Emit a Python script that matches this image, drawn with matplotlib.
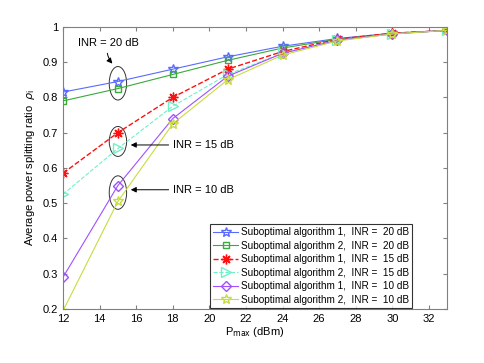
import numpy as np
import matplotlib.pyplot as plt
from matplotlib.patches import Ellipse

p_max = [12, 15, 18, 21, 24, 27, 30, 33]

alg1_20 = [0.815, 0.845, 0.88, 0.915, 0.945, 0.967, 0.982, 0.99]
alg2_20 = [0.79, 0.825, 0.865, 0.905, 0.94, 0.965, 0.981, 0.99]
alg1_15 = [0.585, 0.70, 0.80, 0.88, 0.93, 0.965, 0.982, 0.99]
alg2_15 = [0.525, 0.655, 0.775, 0.865, 0.925, 0.962, 0.98, 0.99]
alg1_10 = [0.29, 0.55, 0.74, 0.86, 0.925, 0.962, 0.98, 0.99]
alg2_10 = [0.195, 0.505, 0.725, 0.85, 0.92, 0.96, 0.98, 0.99]

labels = ['Suboptimal algorithm 1,  INR =  20 dB',
          'Suboptimal algorithm 2,  INR =  20 dB',
          'Suboptimal algorithm 1,  INR =  15 dB',
          'Suboptimal algorithm 2,  INR =  15 dB',
          'Suboptimal algorithm 1,  INR =  10 dB',
          'Suboptimal algorithm 2,  INR =  10 dB']

plt.rcParams['font.family'] = ['Liberation Sans', 'DejaVu Sans']
fig = plt.figure(figsize=(4.85, 3.63), dpi=100)
ax = fig.add_axes([0.13, 0.149, 0.792, 0.777])

ms = 7
ax.plot(p_max, alg1_20, '-', color='#5a6aff', marker='*', mfc='none', ms=ms, lw=0.8, label=labels[0])
ax.plot(p_max, alg2_20, '-', color='#3aaa3a', marker='s', mfc='none', ms=5, lw=0.8, label=labels[1])
ax.plot(p_max, alg1_15, '--', color='#ff1010', marker=(8, 2, 0), ms=ms, lw=1.0, label=labels[2])
ax.plot(p_max, alg2_15, '--', color='#70f0c8', marker='>', mfc='none', ms=ms, lw=0.8, label=labels[3])
ax.plot(p_max, alg1_10, '-', color='#a050ff', marker='D', mfc='none', ms=5.5, lw=0.8, label=labels[4])
ax.plot(p_max, alg2_10, '-', color='#c8dc40', marker='*', mfc='none', ms=ms, lw=0.8, label=labels[5])

# ellipses and annotations
for cy, h in [(0.84, 0.095), (0.675, 0.085), (0.53, 0.095)]:
    ax.add_patch(Ellipse((15.0, cy), 0.95, h, fill=False, ec='#333333', lw=0.7))
ax.annotate('INR = 20 dB', xy=(14.8, 0.89), xytext=(12.8, 0.955), fontsize=8,
            ha='left', va='center', arrowprops=dict(arrowstyle='-|>', color='k', lw=0.7,
                                                    shrinkA=2, connectionstyle='arc3,rad=0.3'))
ax.annotate('INR = 15 dB', xy=(15.55, 0.665), xytext=(18.0, 0.665), fontsize=8,
            ha='left', va='center', arrowprops=dict(arrowstyle='-|>', color='k', lw=0.7, shrinkA=1))
ax.annotate('INR = 10 dB', xy=(15.55, 0.538), xytext=(18.0, 0.538), fontsize=8,
            ha='left', va='center', arrowprops=dict(arrowstyle='-|>', color='k', lw=0.7, shrinkA=1))

ax.set_xlim(12, 33)
ax.set_ylim(0.2, 1.0)
ax.set_xticks(np.arange(12, 33, 2))
ax.set_yticks(np.arange(0.2, 1.01, 0.1))
ax.set_yticklabels(['0.2', '0.3', '0.4', '0.5', '0.6', '0.7', '0.8', '0.9', '1'])
ax.tick_params(direction='in', top=True, right=True, labelsize=8, length=3, color='#808080')
for s in ax.spines.values():
    s.set_color('#808080')
ax.set_xlabel(r'P$_{\rm max}$ (dBm)', fontsize=8, labelpad=1)
ax.set_ylabel(r'Average power splitting ratio  $\rho_{\rm i}$', fontsize=8)

leg = ax.legend(loc='lower right', bbox_to_anchor=(0.909, 0.005), fontsize=7.2, frameon=True,
                fancybox=False, edgecolor='k', handlelength=2.5, borderaxespad=0.0,
                labelspacing=0.35, borderpad=0.3, handletextpad=0.3)
leg.get_frame().set_linewidth(0.8)

fig.savefig('out.png', dpi=100)
